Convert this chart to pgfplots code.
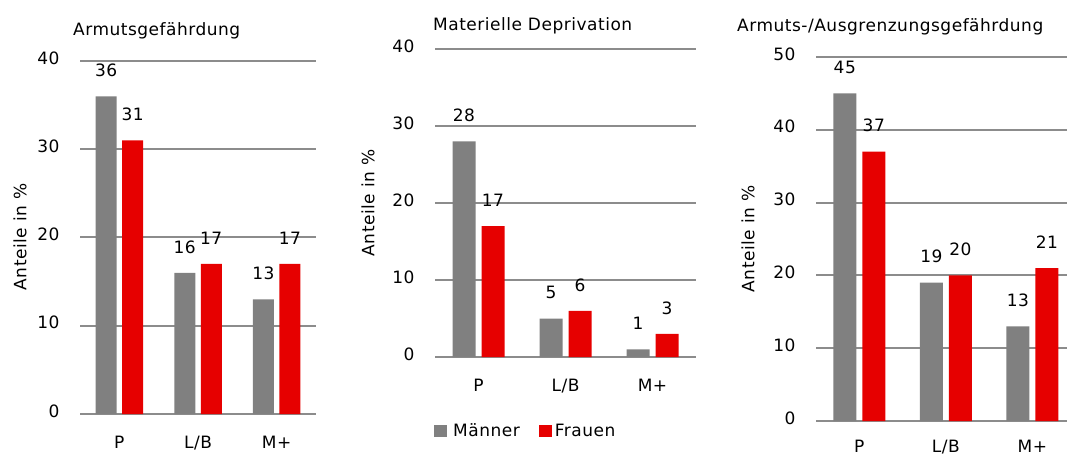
\documentclass[border=0pt]{standalone}
\usepackage{fontspec}
\setmainfont{DejaVu Sans}[LetterSpace=3]
\usepackage{pgfplots}
\pgfplotsset{compat=1.18}
\definecolor{bargray}{RGB}{128,128,128}
\definecolor{barred}{RGB}{230,0,0}
\definecolor{gridgray}{RGB}{140,140,140}
\newcommand{\fs}{\fontsize{17}{20}\selectfont}
\pgfplotsset{
  panel/.style={
    scale only axis, anchor=south west,
    xmin=-0.5, xmax=2.5, ymin=0,
    xtick={0,1,2}, xticklabels={P,L/B,M+},
    axis line style={draw=none},
    major tick length=0pt,
    ymajorgrids, grid style={line width=2pt, gridgray},
    xticklabel style={yshift=-19pt},
    yticklabel style={xshift=-17pt, yshift=3pt},
    /pgf/number format/assume math mode=true,
    clip=false,
    every axis/.append style={font=\fs},
  },
  lbl/.style={nodes near coords, every node near coord/.append style={xshift=#1, yshift=16pt, font=\fs}},
}
\begin{document}
\begin{tikzpicture}[font=\fs]
% Panel 1
\begin{axis}[panel, at={(80pt,41pt)}, width=236pt, height=353pt, ymax=40, ytick={0,10,20,30,40}]
\addplot[ybar, bar width=21pt, bar shift=-13.25pt, fill=bargray, draw=none, lbl=-13.25pt]
  coordinates {(0,36) (1,16) (2,13)};
\addplot[ybar, bar width=21pt, bar shift=13.25pt, fill=barred, draw=none, lbl=13.25pt]
  coordinates {(0,31) (1,17) (2,17)};
\end{axis}
% Panel 2
\begin{axis}[panel, at={(435pt,98pt)}, width=261pt, height=308pt, ymax=40, ytick={0,10,20,30,40},
  legend columns=2,
  legend style={at={(rel axis cs:0,0)}, anchor=west, xshift=-1pt, yshift=-74pt,
    draw=none, fill=none, inner sep=0pt, font=\fs,
    /tikz/every even column/.append style={column sep=17pt}}]
\addplot[ybar, bar width=23pt, bar shift=-14.5pt, fill=bargray, draw=none, lbl=-14.5pt,
  legend image code/.code={\fill[bargray] (0pt,-6pt) rectangle (13pt,6pt);}]
  coordinates {(0,28) (1,5) (2,1)};
\addlegendentry{\hspace{4pt}Männer}
\addplot[ybar, bar width=23pt, bar shift=14.5pt, fill=barred, draw=none, lbl=14.5pt,
  legend image code/.code={\fill[barred] (0pt,-6pt) rectangle (13pt,6pt);}]
  coordinates {(0,17) (1,6) (2,3)};
\addlegendentry{\hspace{1pt}Frauen}
\end{axis}
% Panel 3
\begin{axis}[panel, at={(816pt,34pt)}, width=251pt, height=364pt, xmax=2.4, ymax=50, ytick={0,10,20,30,40,50},
  xticklabel style={yshift=3pt}]
\addplot[ybar, bar width=23pt, bar shift=-14.5pt, fill=bargray, draw=none, lbl=-14.5pt]
  coordinates {(0,45) (1,19) (2,13)};
\addplot[ybar, bar width=23pt, bar shift=14.5pt, fill=barred, draw=none, lbl=14.5pt]
  coordinates {(0,37) (1,20) (2,21)};
\end{axis}
% Titles
\node[anchor=base west, inner sep=0pt] at (73pt,419pt) {Armutsgefährdung};
\node[anchor=base west, inner sep=0pt] at (433pt,424pt) {Materielle Deprivation};
\node[anchor=base west, inner sep=0pt] at (737pt,423pt) {Armuts-/Ausgrenzungsgefährdung};
% Y labels
\node[rotate=90] at (20pt,218pt) {Anteile in \%};
\node[rotate=90] at (368pt,252pt) {Anteile in \%};
\node[rotate=90] at (748pt,216pt) {Anteile in \%};
\pgfresetboundingbox
\path[use as bounding box] (0pt,0pt) rectangle (1067pt,455pt);
\end{tikzpicture}
\end{document}
